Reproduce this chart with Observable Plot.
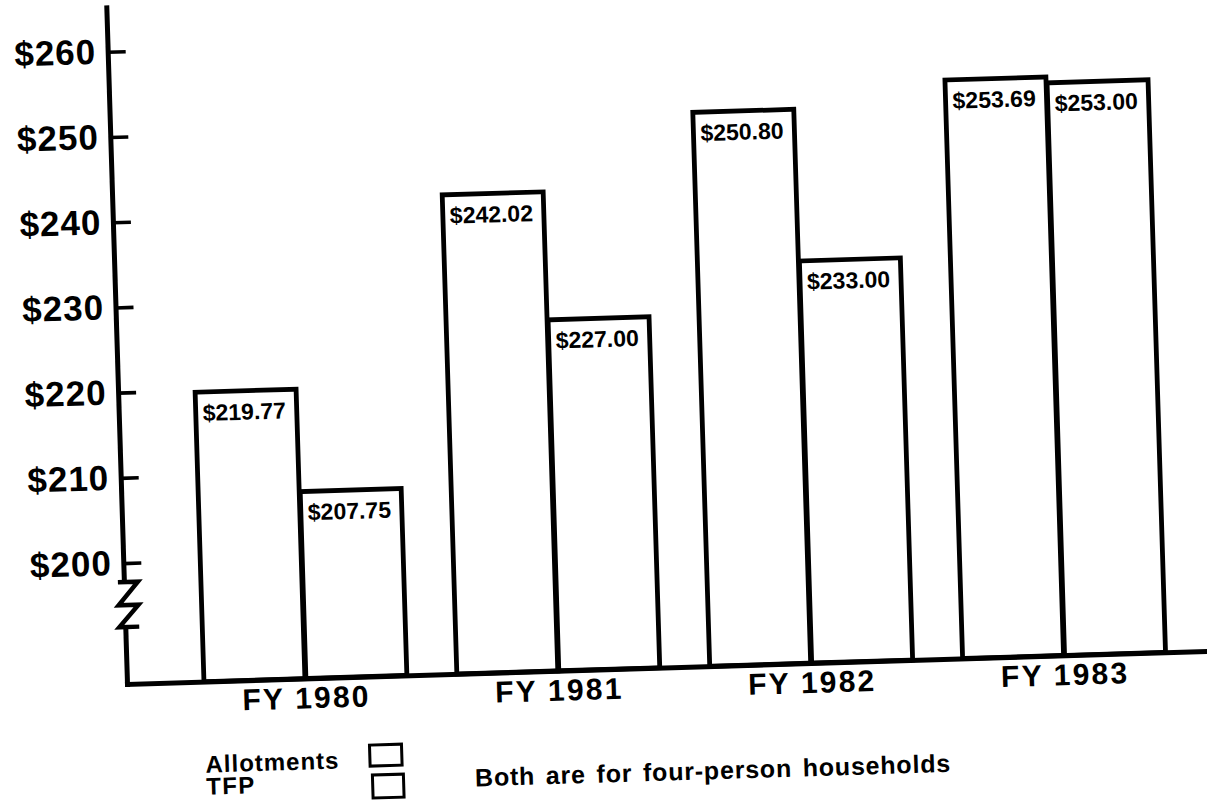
<!DOCTYPE html>
<html>
<head>
<meta charset="utf-8">
<script src="https://cdn.jsdelivr.net/npm/d3@7"></script>
<script src="https://cdn.jsdelivr.net/npm/@observablehq/plot@0.6"></script>
<style>
  html, body { margin: 0; padding: 0; background: #fff; overflow: hidden; width: 1207px; height: 802px; }
  #wrap { position: relative; width: 1207px; height: 802px; transform: rotate(-1.75deg); transform-origin: 127px 684px;
          font-family: "Liberation Sans", Arial, Helvetica, sans-serif; font-weight: bold; color: #000; }
  #chart svg { display: block; }
  .leg { position: absolute; line-height: 1; white-space: nowrap; }
  .box { position: absolute; border: 3px solid #000; box-sizing: border-box; background: #fff; }
  #chart svg g[aria-label="x-axis tick label"] text { letter-spacing: 2.2px; }
  #chart svg g[aria-label="y-axis tick label"] text { letter-spacing: 1px; }
</style>
</head>
<body>
<div id="wrap">
  <div id="chart"></div>
  <div class="leg" id="leg0" style="left:203px; top:755px; font-size:24px; letter-spacing:1px;"></div>
  <div class="box" style="left:366px; top:751px; width:35px; height:24px;"></div>
  <div class="leg" id="leg1" style="left:203px; top:777px; font-size:24px; letter-spacing:1.4px;"></div>
  <div class="box" style="left:368px; top:781px; width:34px; height:26px;"></div>
  <div class="leg" id="note" style="left:472px; top:776px; font-size:25px; letter-spacing:0.8px; word-spacing:3px;"></div>
</div>
<script>
// ---- data ----
const years = ["FY 1980", "FY 1981", "FY 1982", "FY 1983"];
const allotments = [219.77, 242.02, 250.80, 253.69];
const tfp = [207.75, 227.00, 233.00, 253.00];
const seriesNames = ["Allotments", "TFP"];
const yTicks = [200, 210, 220, 230, 240, 250, 260];
const note = "Both are for four-person households";

// ---- table built from the arrays ----
const allotRows = years.map((year, i) => ({year, series: seriesNames[0], value: allotments[i]}));
const tfpRows = years.map((year, i) => ({year, series: seriesNames[1], value: tfp[i]}));

const yMin = 185.81, yMax = 265.22;   // axis break below $200
const W = 1207, H = 724, ML = 127, MR = 0, MT = 7, MB = 40;
const half = 102;                      // half the group band: one bar per series
const fmt = v => "$" + v.toFixed(2);

// axis break (zigzag) drawn relative to the y scale
function zigzag(index, scales, values, dims) {
  const ns = "http://www.w3.org/2000/svg";
  const g = document.createElementNS(ns, "g");
  const x0 = dims.marginLeft;
  const y0 = scales.y(200);
  const r = document.createElementNS(ns, "rect");
  r.setAttribute("x", x0 - 4); r.setAttribute("y", y0 + 20);
  r.setAttribute("width", 8); r.setAttribute("height", 43);
  r.setAttribute("fill", "#fff");
  g.appendChild(r);
  const p = document.createElementNS(ns, "path");
  const pts = [[-6, 19], [14, 19], [-6, 42], [14, 42], [-6, 64], [14, 64]];
  p.setAttribute("d", "M" + pts.map(([dx, dy]) => (x0 + dx) + "," + (y0 + dy)).join("L"));
  p.setAttribute("fill", "none");
  p.setAttribute("stroke", "#000");
  p.setAttribute("stroke-width", 4.5);
  p.setAttribute("stroke-linejoin", "miter");
  g.appendChild(p);
  return g;
}

const chart = Plot.plot({
  width: W, height: H,
  marginLeft: ML, marginRight: MR, marginTop: MT, marginBottom: MB,
  style: {fontFamily: "Liberation Sans, Arial, Helvetica, sans-serif", background: "#fff", color: "#000", overflow: "visible"},
  x: {type: "band", domain: years, paddingInner: 0.1962, paddingOuter: 0.2258, align: 0.6545, label: null},
  y: {domain: [yMin, yMax], label: null},
  marks: [
    Plot.barY(allotRows, {x: "year", y1: yMin, y2: "value", insetRight: half, fill: "#fff", stroke: "#000", strokeWidth: 4.8}),
    Plot.barY(tfpRows, {x: "year", y1: yMin, y2: "value", insetLeft: half, fill: "#fff", stroke: "#000", strokeWidth: 4.8}),
    Plot.text(allotRows, {x: "year", y: "value", text: d => fmt(d.value), textAnchor: "start", dx: -half + 7, dy: 21, fontSize: 23, fontWeight: "bold", fill: "#000"}),
    Plot.text(tfpRows, {x: "year", y: "value", text: d => fmt(d.value), textAnchor: "start", dx: 7, dy: 21, fontSize: 23, fontWeight: "bold", fill: "#000"}),
    Plot.frame({anchor: "left", stroke: "#000", strokeWidth: 5}),
    Plot.frame({anchor: "bottom", stroke: "#000", strokeWidth: 5}),
    Plot.tickY(yTicks, {y: d => d, insetRight: W - ML - MR - 18, stroke: "#000", strokeWidth: 3.6}),
    zigzag,
    Plot.axisY({ticks: yTicks, tickSize: 0, tickPadding: 12, tickFormat: d => "$" + d, fontSize: 35, fontWeight: "bold"}),
    Plot.axisX({tickSize: 0, tickPadding: 8, fontSize: 30, fontWeight: "bold"})
  ]
});
document.getElementById("chart").appendChild(chart);
document.getElementById("leg0").textContent = seriesNames[0];
document.getElementById("leg1").textContent = seriesNames[1];
document.getElementById("note").textContent = note;
</script>
</body>
</html>
